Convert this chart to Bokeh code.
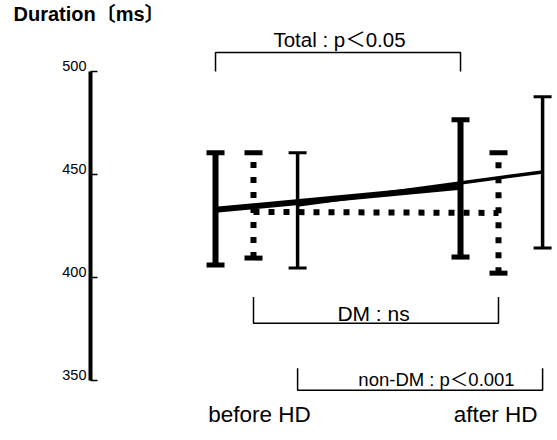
from bokeh.plotting import figure
from bokeh.models import ColumnDataSource, Range1d, LinearAxis, FixedTicker
from bokeh.core.properties import value
from bokeh.embed import file_html
from bokeh.resources import INLINE

# ---- data ----
phases = ["before HD", "after HD"]
groups = ["Total", "DM", "non-DM"]
total_mean = [432.7, 443.9]
total_high = [460.4, 476.4]
total_low = [405.9, 409.8]
dm_mean = [431.7, 431.2]
dm_high = [460.4, 460.4]
dm_low = [409.3, 402.0]
nondm_mean = [435.1, 451.1]
nondm_high = [460.4, 487.6]
nondm_low = [404.5, 414.2]
stat_labels = ["Total : p＜0.05", "DM : ns", "non-DM : p＜0.001"]
y_ticks = [350, 400, 450, 500]
y_title = "Duration〔ms〕"

# ---- layout / style constants ----
FONT_NAME = "Liberation Sans, Noto Sans CJK JP"
FONT = value(FONT_NAME)
phase_pos = [0.0, 1.0]
offsets = {"Total": -0.155, "DM": 0.0, "non-DM": 0.18}
styles = {
    "Total": dict(line_width=6, line_dash="solid", cap_width=5),
    "DM": dict(line_width=6, line_dash="6 9", cap_width=5),
    "non-DM": dict(line_width=3.5, line_dash="solid", cap_width=3),
}
series = {
    "Total": (total_mean, total_low, total_high),
    "DM": (dm_mean, dm_low, dm_high),
    "non-DM": (nondm_mean, nondm_low, nondm_high),
}

FRAME_TOP = 25.0     # height of the title panel
FRAME_BOTTOM = 438.0
PX_PER_MS = 2.057
Y0 = 350 - (FRAME_BOTTOM - 380) / PX_PER_MS
Y1 = 500 + (71.5 - FRAME_TOP) / PX_PER_MS
LABEL_LIFT = 5.0 / PX_PER_MS   # tick labels sit just above their ticks

p = figure(width=553, height=int(FRAME_BOTTOM),
           x_range=Range1d(-0.6653, 1.2245), y_range=Range1d(Y0, Y1),
           x_axis_type=None, y_axis_type=None,
           toolbar_location=None, output_backend="svg",
           min_border_left=90, min_border_right=0,
           min_border_top=0, min_border_bottom=0)
p.extra_y_ranges = {"labels": Range1d(Y0 - LABEL_LIFT, Y1 - LABEL_LIFT)}
p.outline_line_color = None
p.background_fill_color = "white"
p.border_fill_color = "white"

p.title.text = y_title
p.title.align = "left"
p.title.offset = -77
p.title.standoff = 0
p.title.text_font = FONT_NAME
p.title.text_font_size = "20px"
p.title.text_font_style = "bold"
p.title.text_color = "black"

# axis line and ticks
yaxis = LinearAxis(bounds=(350, 500), ticker=FixedTicker(ticks=y_ticks))
yaxis.axis_line_width = 4
yaxis.axis_line_color = "black"
yaxis.major_tick_in = 7
yaxis.major_tick_out = 0
yaxis.major_tick_line_width = 1.5
yaxis.minor_tick_line_color = None
yaxis.major_label_standoff = 0
yaxis.major_label_text_font_size = "0px"
yaxis.major_label_text_color = None
p.add_layout(yaxis, "left")

# tick labels, drawn just above each tick
ylab = LinearAxis(y_range_name="labels", ticker=FixedTicker(ticks=y_ticks))
ylab.axis_line_color = None
ylab.major_tick_line_color = None
ylab.minor_tick_line_color = None
ylab.major_tick_in = 0
ylab.major_tick_out = 0
ylab.major_label_standoff = 4
ylab.major_label_text_font = "Liberation Sans"
ylab.major_label_text_font_size = "14.5px"
ylab.major_label_text_color = "black"
p.add_layout(ylab, "left")

# ---- series ----
for g in groups:
    mean, low, high = series[g]
    st = styles[g]
    xs = [x + offsets[g] for x in phase_pos]
    p.segment(x0=xs, y0=low, x1=xs, y1=high, line_color="black",
              line_width=st["line_width"], line_dash=st["line_dash"])
    p.dash(x=xs, y=high, size=18, line_color="black", line_width=st["cap_width"])
    p.dash(x=xs, y=low, size=18, line_color="black", line_width=st["cap_width"])
    p.line(x=xs, y=mean, line_color="black", line_width=st["line_width"],
           line_dash=st["line_dash"])

# ---- significance brackets ----
br_x0 = [phase_pos[0] + offsets[g] for g in groups]
br_x1 = [phase_pos[1] + offsets[g] for g in groups]
br_tip = [499.8, 390.4, 355.9]     # free ends of the bracket legs
br_bar = [509.0, 377.7, 345.2]     # level of the horizontal bar
p.multi_line(xs=[[a, a, b, b] for a, b in zip(br_x0, br_x1)],
             ys=[[t, s, s, t] for t, s in zip(br_tip, br_bar)],
             line_color="black", line_width=1.5)

stat_src = ColumnDataSource(dict(x=[0.351, 0.49, 0.747], y=[515.3, 382.6, 350.3],
                                 text=stat_labels, size=["20.5px", "21px", "18.5px"]))
p.text(x="x", y="y", text="text", source=stat_src, text_font=FONT,
       text_font_size="size", text_align="center", text_baseline="alphabetic",
       text_color="black")

# ---- category labels ----
cat_src = ColumnDataSource(dict(x=[0.0245, 0.988], y=[333.5, 333.5], text=phases))
p.text(x="x", y="y", text="text", source=cat_src, text_font=FONT,
       text_font_size="22.5px", text_align="center", text_baseline="alphabetic",
       text_color="black")

open("out.html", "w").write(file_html(p, INLINE))
